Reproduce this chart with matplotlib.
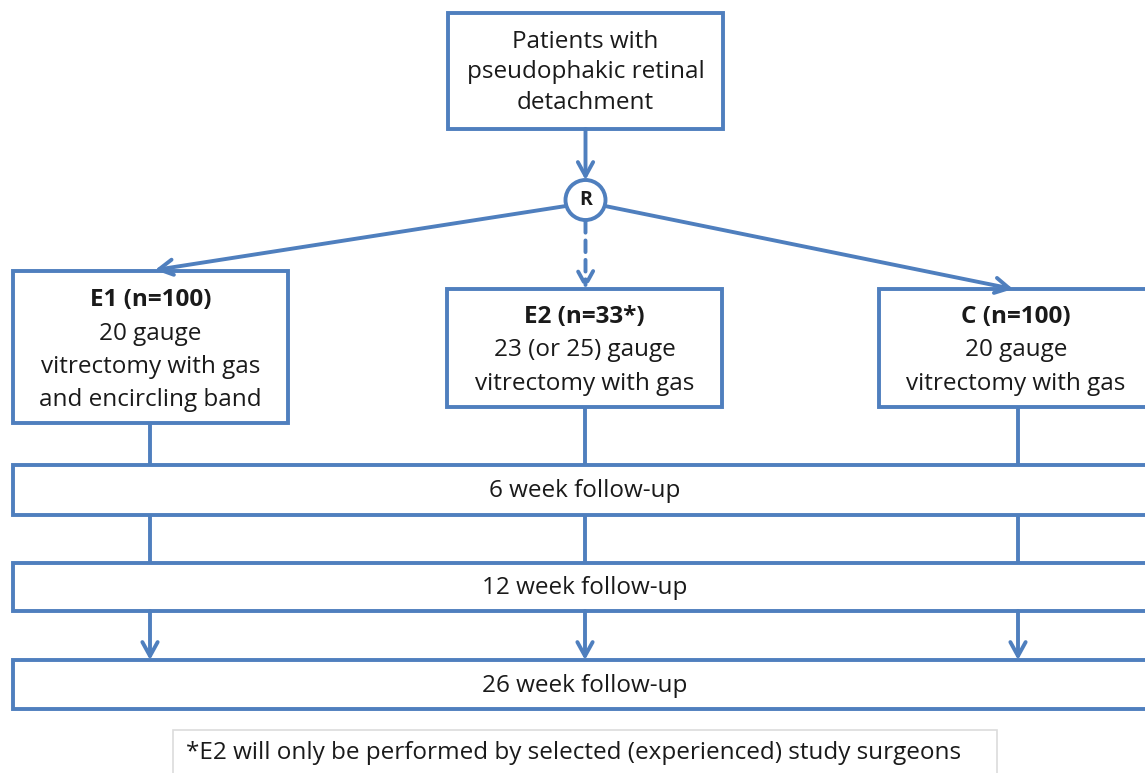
import matplotlib
matplotlib.use("Agg")
import matplotlib.pyplot as plt
from matplotlib.patches import Rectangle, Circle

plt.rcParams['font.family'] = ['Open Sans', 'DejaVu Sans']

BLUE = '#4F7FBE'
TXT = '#1a1a1a'

top_text = "Patients with\npseudophakic retinal\ndetachment"
arm_titles = ["E1 (n=100)", "E2 (n=33*)", "C (n=100)"]
arm_bodies = ["20 gauge\nvitrectomy with gas\nand encircling band",
              "23 (or 25) gauge\nvitrectomy with gas",
              "20 gauge\nvitrectomy with gas"]
followups = ["6 week follow-up", "12 week follow-up", "26 week follow-up"]
footnote = "*E2 will only be performed by selected (experienced) study surgeons"

W, H = 1145, 773
fig = plt.figure(figsize=(W / 100, H / 100), dpi=100)
ax = fig.add_axes([0, 0, 1, 1])
ax.set_xlim(0, W)
ax.set_ylim(H, 0)
ax.axis('off')

LW = 2.8
FS = 17.5

def box(x0, y0, x1, y1, ec=BLUE, lw=LW, z=2):
    ax.add_patch(Rectangle((x0, y0), x1 - x0, y1 - y0, fill=True, fc='white',
                           ec=ec, lw=lw, zorder=z))

def arrow(x0, y0, x1, y1, ls='-'):
    ax.annotate('', xy=(x1, y1), xytext=(x0, y0),
                arrowprops=dict(arrowstyle='->,head_length=1.0,head_width=0.55',
                                color=BLUE, lw=LW, linestyle=ls,
                                shrinkA=0, shrinkB=0), zorder=3)

def line(x0, y0, x1, y1):
    ax.plot([x0, x1], [y0, y1], color=BLUE, lw=LW, zorder=1, solid_capstyle='butt')

# top box
box(448, 13, 723, 129)
for i, s in enumerate(top_text.split('\n')):
    ax.text(585.5, 42 + 30.5 * i, s, ha='center', va='center', fontsize=FS,
            color=TXT, zorder=4)

# arrow to R
arrow(585.5, 129, 585.5, 180)
ax.add_patch(Circle((585.5, 200), 20, fc='white', ec=BLUE, lw=LW, zorder=4))
ax.text(585.5, 200, "R", ha='center', va='center', fontsize=14,
        fontweight='bold', color=TXT, zorder=5)

# arm boxes
arm_boxes = [(13, 271, 288, 423), (447, 289, 722, 407), (879, 289, 1155, 407)]
arm_cx = [150, 585, 1018]
text_cx = [150.5, 584.5, 1016]
title_y = [300, 317, 317]
arrow(566, 206, 155, 270)
arrow(585.5, 221, 585.5, 289, ls=(0, (3, 2)))
arrow(605, 206, 1013, 289)

for (x0, y0, x1, y1), t, b, cx, ty in zip(arm_boxes, arm_titles, arm_bodies,
                                          text_cx, title_y):
    box(x0, y0, x1, y1)
    ax.text(cx, ty, t, ha='center', va='center', fontsize=FS,
            fontweight='bold', color=TXT, zorder=4)
    for i, s in enumerate(b.split('\n')):
        ax.text(cx, ty + 33.5 * (i + 1), s, ha='center', va='center',
                fontsize=FS, color=TXT, zorder=4)

# follow-up boxes
fu_boxes = [(465, 515), (563, 611), (660, 709)]
for (y0, y1), t in zip(fu_boxes, followups):
    box(13, y0, 1160, y1)
    ax.text(585, (y0 + y1) / 2 + 1, t, ha='center', va='center', fontsize=FS,
            color=TXT, zorder=4)

# connectors
for (x0, y0, x1, y1), cx in zip(arm_boxes, arm_cx):
    line(cx, y1, cx, fu_boxes[0][0])
for cx in arm_cx:
    line(cx, fu_boxes[0][1], cx, fu_boxes[1][0])
    arrow(cx, fu_boxes[1][1], cx, fu_boxes[2][0])

# footnote
ax.add_patch(Rectangle((173, 730), 824, 60, fc='white', ec='#dcdcdc', lw=1.2, zorder=2))
ax.text(574, 753, footnote, ha='center', va='center', fontsize=FS,
        color=TXT, zorder=4)

fig.savefig('out.png', dpi=100, facecolor='white')
